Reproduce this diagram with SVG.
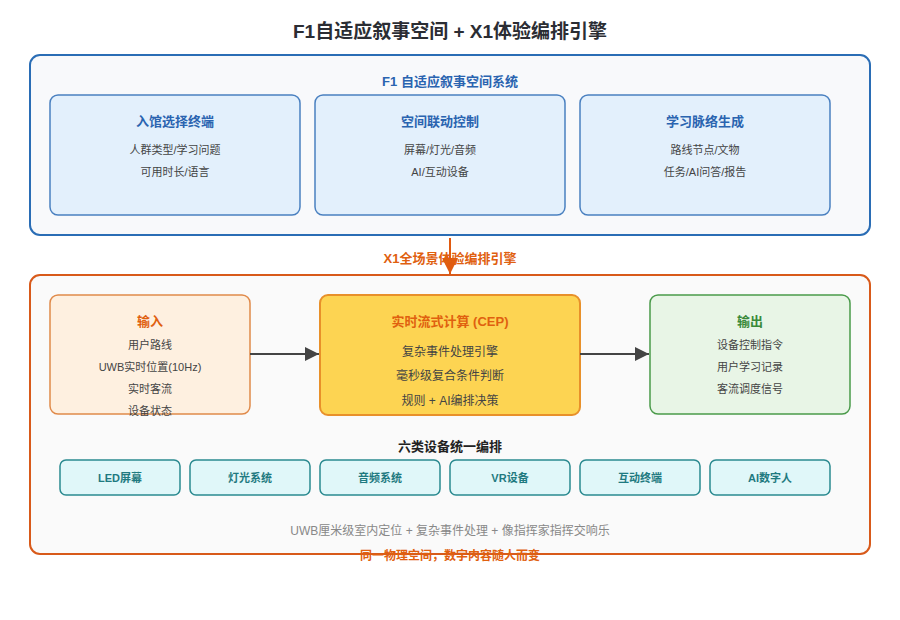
<svg xmlns="http://www.w3.org/2000/svg" width="900" height="620" viewBox="0 0 900 620">
<defs>
<style>
text{font-family:"Liberation Sans","Noto Sans CJK SC",sans-serif;text-anchor:middle;dominant-baseline:middle}
.h1{font-size:19px;font-weight:bold;fill:#2b2d33}
.sec{font-size:13px;font-weight:bold}
.box-t{font-size:13px;font-weight:bold}
.ln{font-size:11px;fill:#444}
.ln2{font-size:12px;fill:#444}
.f1{fill:#e3f0fc;stroke:#4a80c0;stroke-width:1.5}
.dev{fill:#e0f7f9;stroke:#2a8a90;stroke-width:1.5}
.devt{font-size:11px;font-weight:bold;fill:#1f7a80}
.blue{fill:#2a64b0}
.orange{fill:#e0600f}
</style>
<marker id="ad" viewBox="0 0 10 10" refX="10" refY="5" markerWidth="14" markerHeight="14" markerUnits="userSpaceOnUse" orient="auto"><path d="M0,0L10,5L0,10z" fill="#444"/></marker>
<marker id="ao" viewBox="0 0 10 10" refX="10" refY="5" markerWidth="16" markerHeight="16" markerUnits="userSpaceOnUse" orient="auto"><path d="M0,0L10,5L0,10z" fill="#e05a10"/></marker>
</defs>
<rect width="900" height="620" fill="#ffffff"/>
<text class="h1" x="450" y="32.5">F1自适应叙事空间 + X1体验编排引擎</text>

<g id="f1-system">
<rect x="30" y="55" width="840" height="180" rx="10" fill="#f8f9fb" stroke="#2a6db5" stroke-width="2"/>
<text class="sec blue" x="450" y="82.5">F1 自适应叙事空间系统</text>
</g>
<g id="entry-terminal">
<rect class="f1" x="50" y="95" width="250" height="120" rx="8"/>
<text class="box-t blue" x="175" y="122.5">入馆选择终端</text>
<text class="ln" x="175" y="151.5">人群类型/学习问题</text>
<text class="ln" x="175" y="173.5">可用时长/语言</text>
</g>
<g id="space-control">
<rect class="f1" x="315" y="95" width="250" height="120" rx="8"/>
<text class="box-t blue" x="440" y="122.5">空间联动控制</text>
<text class="ln" x="440" y="151.5">屏幕/灯光/音频</text>
<text class="ln" x="440" y="173.5">AI/互动设备</text>
</g>
<g id="learning-context">
<rect class="f1" x="580" y="95" width="250" height="120" rx="8"/>
<text class="box-t blue" x="705" y="122.5">学习脉络生成</text>
<text class="ln" x="705" y="151.5">路线节点/文物</text>
<text class="ln" x="705" y="173.5">任务/AI问答/报告</text>
</g>

<g id="x1-engine">
<rect x="30" y="275" width="840" height="279" rx="10" fill="#fafafa" stroke="#d85a1a" stroke-width="2"/>
<text class="sec" x="450" y="447.5" fill="#222" font-size="12">六类设备统一编排</text>
<text x="450" y="531.5" font-size="12" fill="#888">UWB厘米级室内定位 + 复杂事件处理 + 像指挥家指挥交响乐</text>
</g>

<g id="input">
<rect x="50" y="295" width="200" height="119" rx="8" fill="#fef0e0" stroke="#e08a4a" stroke-width="1.5"/>
<text class="box-t orange" x="150" y="322.5">输入</text>
<text class="ln" x="150" y="346.5">用户路线</text>
<text class="ln" x="150" y="368.5">UWB实时位置(10Hz)</text>
<text class="ln" x="150" y="390.5">实时客流</text>
<text class="ln" x="150" y="412.5">设备状态</text>
</g>
<g id="cep">
<rect x="320" y="295" width="260" height="120" rx="8" fill="#fdd452" stroke="#e8902a" stroke-width="2"/>
<text class="box-t orange" x="450" y="322.5">实时流式计算 (CEP)</text>
<text class="ln2" x="450" y="352.5">复杂事件处理引擎</text>
<text class="ln2" x="450" y="376.5">毫秒级复合条件判断</text>
<text class="ln2" x="450" y="401.5">规则 + AI编排决策</text>
</g>
<g id="output">
<rect x="650" y="295" width="200" height="119" rx="8" fill="#e8f5e6" stroke="#4a9a4a" stroke-width="1.5"/>
<text class="box-t" x="750" y="322.5" fill="#3a8a3a">输出</text>
<text class="ln" x="750" y="346.5">设备控制指令</text>
<text class="ln" x="750" y="368.5">用户学习记录</text>
<text class="ln" x="750" y="390.5">客流调度信号</text>
</g>

<g id="dev-led"><rect class="dev" x="60" y="460" width="120" height="35" rx="6"/><text class="devt" x="120" y="479">LED屏幕</text></g>
<g id="dev-light"><rect class="dev" x="190" y="460" width="120" height="35" rx="6"/><text class="devt" x="250" y="479">灯光系统</text></g>
<g id="dev-audio"><rect class="dev" x="320" y="460" width="120" height="35" rx="6"/><text class="devt" x="380" y="479">音频系统</text></g>
<g id="dev-vr"><rect class="dev" x="450" y="460" width="120" height="35" rx="6"/><text class="devt" x="510" y="479">VR设备</text></g>
<g id="dev-interactive"><rect class="dev" x="580" y="460" width="120" height="35" rx="6"/><text class="devt" x="640" y="479">互动终端</text></g>
<g id="dev-ai"><rect class="dev" x="710" y="460" width="120" height="35" rx="6"/><text class="devt" x="770" y="479">AI数字人</text></g>

<g id="connectors">
<line x1="450" y1="238" x2="450" y2="274" stroke="#e05a10" stroke-width="2" marker-end="url(#ao)"/>
<line x1="250" y1="354" x2="319" y2="354" stroke="#444" stroke-width="2" marker-end="url(#ad)"/>
<line x1="580" y1="354" x2="649" y2="354" stroke="#444" stroke-width="2" marker-end="url(#ad)"/>
</g>
<text class="sec orange" x="450" y="259.5">X1全场景体验编排引擎</text>
<text class="orange" x="450" y="556.5" font-size="12" font-weight="bold">同一物理空间，数字内容随人而变</text>
</svg>
